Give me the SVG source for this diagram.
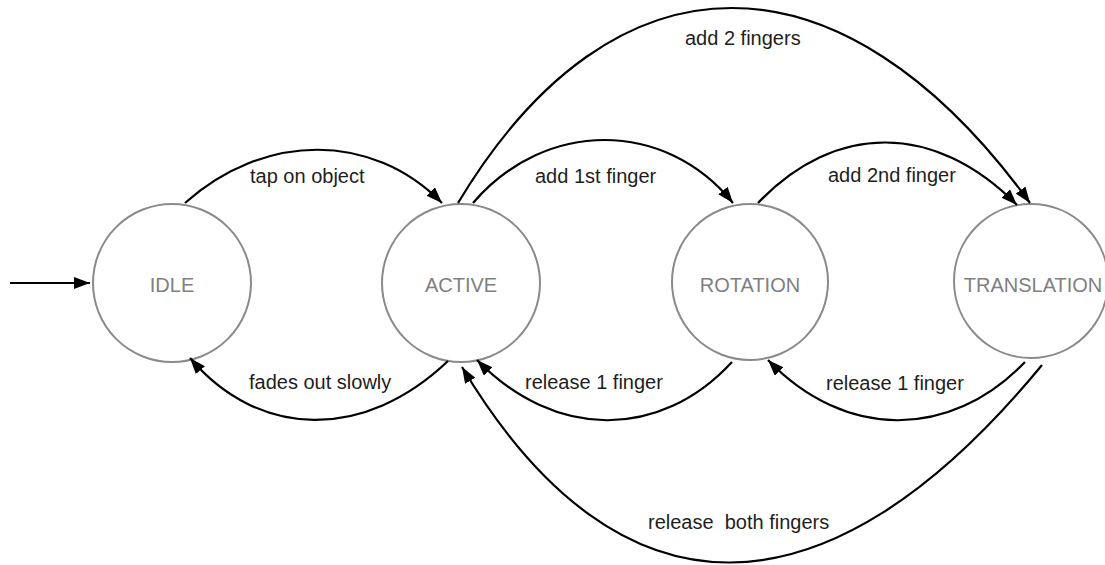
<svg xmlns="http://www.w3.org/2000/svg" width="1105" height="565" viewBox="0 0 1105 565">
  <style>
    .state { fill: #ffffff; stroke: #8a8a8a; stroke-width: 2; }
    .state-label { font-family: "Liberation Sans", Arial, sans-serif; font-size: 20px; fill: #808080; text-anchor: middle; }
    .edge { fill: none; stroke: #000000; stroke-width: 2.2; marker-end: url(#arrow); }
    .edge-label { font-family: "Liberation Sans", Arial, sans-serif; font-size: 20px; fill: #1e1e1e; white-space: pre; }
  </style>
  <defs>
    <marker id="arrow" markerUnits="userSpaceOnUse" markerWidth="18" markerHeight="14" refX="16" refY="6" orient="auto">
      <path d="M0,0 L16,6 L0,12 z" fill="#000000"/>
    </marker>
  </defs>
  <rect width="1105" height="565" fill="#ffffff"/>

  <!-- states -->
  <g id="idle">
    <circle class="state" cx="172" cy="283" r="79"/>
    <text class="state-label" x="172" y="292">IDLE</text>
  </g>
  <g id="active">
    <circle class="state" cx="461" cy="283" r="79"/>
    <text class="state-label" x="461" y="292">ACTIVE</text>
  </g>
  <g id="rotation">
    <circle class="state" cx="750" cy="282" r="78"/>
    <text class="state-label" x="750" y="292">ROTATION</text>
  </g>
  <g id="translation">
    <circle class="state" cx="1031" cy="281" r="77"/>
    <text class="state-label" x="1033" y="292">TRANSLATION</text>
  </g>

  <!-- transitions -->
  <g id="connectors">
    <path class="edge" d="M10,283 L90,283"/>
    <path class="edge" d="M185,203 C265,132 372,132 442,203"/>
    <path class="edge" d="M473,203 C545,119 665,119 733,203"/>
    <path class="edge" d="M458,203 C614,-57 841,-57 1030,203"/>
    <path class="edge" d="M758,203 C835,122 935,122 1017,205"/>
    <path class="edge" d="M448,361 C365,440 260,440 190,358"/>
    <path class="edge" d="M732,362 C660,440 555,440 477,360"/>
    <path class="edge" d="M1025,362 C950,440 845,440 768,360"/>
    <path class="edge" d="M1042,365 C827,627 619,629 462,367"/>
  </g>

  <!-- transition labels -->
  <g id="labels">
    <text class="edge-label" x="250" y="183">tap on object</text>
    <text class="edge-label" x="535" y="183">add 1st finger</text>
    <text class="edge-label" x="685" y="45">add 2 fingers</text>
    <text class="edge-label" x="828" y="182">add 2nd finger</text>
    <text class="edge-label" x="249" y="389">fades out slowly</text>
    <text class="edge-label" x="525" y="389">release 1 finger</text>
    <text class="edge-label" x="826" y="390">release 1 finger</text>
    <text class="edge-label" x="648" y="529">release  both fingers</text>
  </g>
</svg>
